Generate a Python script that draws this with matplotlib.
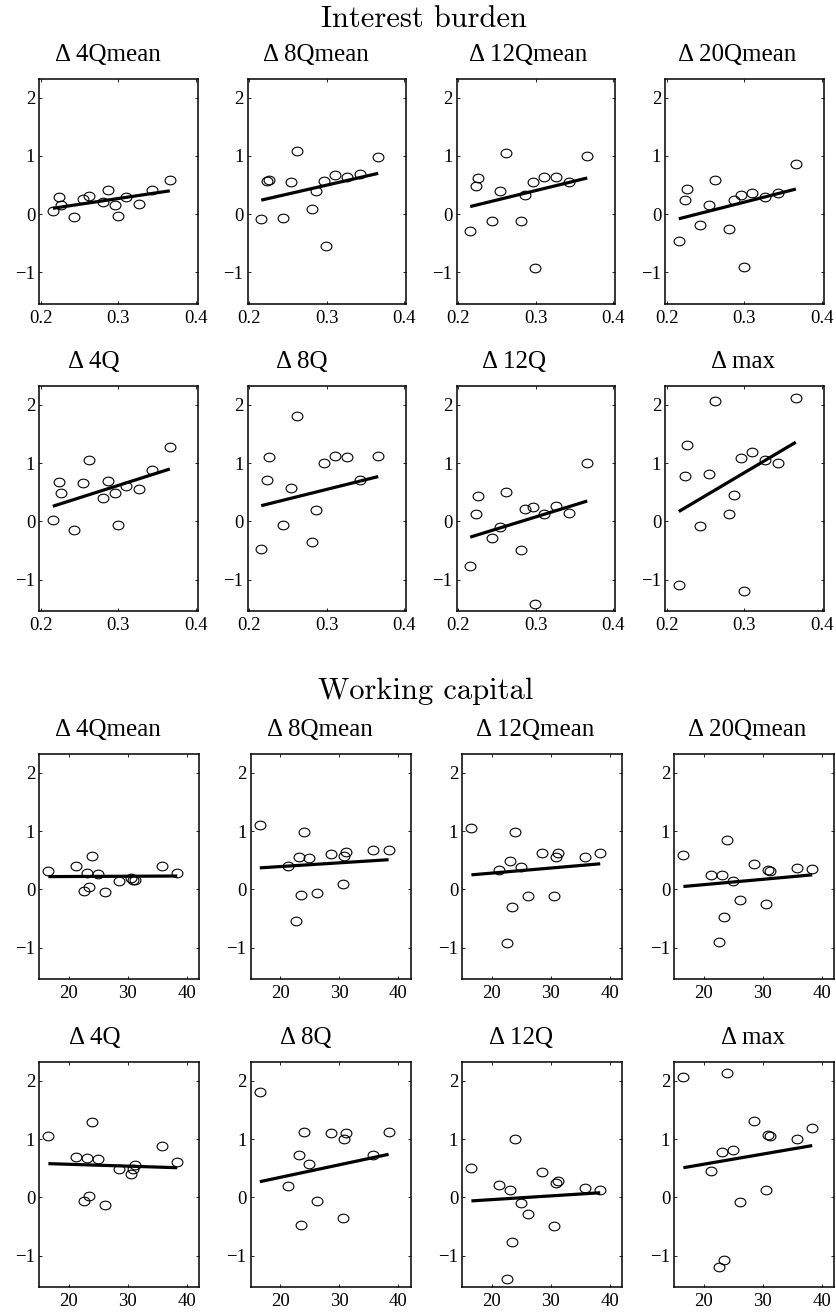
import numpy as np
import matplotlib
matplotlib.use("Agg")
import matplotlib.pyplot as plt
from matplotlib.path import Path
from matplotlib.transforms import Affine2D

plt.rcParams['font.family'] = ['Liberation Serif', 'DejaVu Serif']
plt.rcParams['axes.unicode_minus'] = True

nan = np.nan

# ---------------- Interest burden ----------------
ib_x = [0.2154, 0.2229, 0.2255, 0.2431, 0.2540, 0.2615, 0.2804,
        0.2862, 0.2958, 0.2989, 0.3103, 0.3266, 0.3429, 0.3662]
ib_4qmean = [0.05, 0.29, 0.16, -0.05, 0.26, 0.31, 0.20, 0.42, 0.16, -0.03, 0.29, 0.17, 0.41, 0.58]
ib_8qmean = [-0.09, 0.56, 0.59, -0.06, 0.55, 1.09, 0.09, 0.40, 0.57, -0.54, 0.68, 0.64, 0.69, 0.98]
ib_12qmean = [-0.29, 0.48, 0.62, -0.11, 0.39, 1.05, -0.11, 0.33, 0.55, -0.92, 0.63, 0.63, 0.55, 0.99]
ib_20qmean = [-0.46, 0.24, 0.43, -0.18, 0.15, 0.59, -0.25, 0.24, 0.33, -0.90, 0.36, 0.30, 0.36, 0.86]
ib_4q = [0.02, 0.67, 0.48, -0.14, 0.66, 1.05, 0.41, 0.69, 0.48, -0.07, 0.60, 0.55, 0.88, 1.28]
ib_8q = [-0.48, 0.71, 1.10, -0.07, 0.57, 1.81, -0.36, 0.20, 1.00, nan, 1.13, 1.10, 0.71, 1.13]
ib_12q = [-0.77, 0.12, 0.44, -0.29, -0.10, 0.50, -0.49, 0.21, 0.24, -1.41, 0.12, 0.27, 0.15, 1.01]
ib_max = [-1.09, 0.78, 1.32, -0.08, 0.81, 2.06, 0.13, 0.45, 1.09, -1.20, 1.20, 1.05, 1.01, 2.12]
# fitted line values at the smallest and largest x
ib_fit_lo = [0.10, 0.24, 0.13, -0.08, 0.26, 0.27, -0.27, 0.17]
ib_fit_hi = [0.40, 0.70, 0.62, 0.43, 0.90, 0.77, 0.35, 1.36]

# ---------------- Working capital ----------------
wc_x = [16.54, 21.25, 22.6, 23.1, 23.5, 24.0, 24.9,
        26.2, 28.55, 30.6, 30.8, 31.2, 35.75, 38.36]
wc_4qmean = [0.31, 0.41, -0.02, 0.29, 0.05, 0.58, 0.26, -0.05, 0.15, 0.20, 0.155, 0.17, 0.41, 0.28]
wc_8qmean = [1.10, 0.40, -0.54, 0.56, -0.09, 0.98, 0.54, -0.06, 0.60, 0.09, 0.57, 0.64, 0.68, 0.68]
wc_12qmean = [1.05, 0.33, -0.92, 0.48, -0.30, 0.98, 0.39, -0.11, 0.62, -0.12, 0.55, 0.62, 0.55, 0.62]
wc_20qmean = [0.59, 0.24, -0.90, 0.24, -0.47, 0.85, 0.14, -0.19, 0.43, -0.25, 0.33, 0.31, 0.36, 0.35]
wc_4q = [1.05, 0.70, -0.06, 0.67, 0.02, 1.29, 0.66, -0.13, 0.49, 0.41, 0.49, 0.56, 0.88, 0.60]
wc_8q = [1.81, 0.20, nan, 0.72, -0.48, 1.13, 0.57, -0.07, 1.10, -0.36, 1.00, 1.10, 0.72, 1.13]
wc_12q = [0.51, 0.22, -1.40, 0.12, -0.76, 1.01, -0.09, -0.28, 0.44, -0.49, 0.24, 0.28, 0.16, 0.12]
wc_max = [2.06, 0.46, -1.20, 0.78, -1.08, 2.13, 0.81, -0.08, 1.32, 0.13, 1.08, 1.06, 1.01, 1.20]
wc_fit_lo = [0.22, 0.37, 0.25, 0.05, 0.58, 0.27, -0.06, 0.51]
wc_fit_hi = [0.23, 0.51, 0.44, 0.25, 0.51, 0.74, 0.08, 0.89]

panel_titles = ["Δ 4Qmean", "Δ 8Qmean", "Δ 12Qmean", "Δ 20Qmean",
                "Δ 4Q", "Δ 8Q", "Δ 12Q", "Δ max"]
group_titles = ["Interest burden", "Working capital"]
ib_xticks = [0.2, 0.3, 0.4]
wc_xticks = [20, 30, 40]
yticks = [-1, 0, 1, 2]

groups = [
    dict(x=ib_x, ys=[ib_4qmean, ib_8qmean, ib_12qmean, ib_20qmean,
                     ib_4q, ib_8q, ib_12q, ib_max],
         lo=ib_fit_lo, hi=ib_fit_hi, xticks=ib_xticks, xlim=(0.198, 0.402),
         lefts=[39.3, 247.7, 456.7, 665.3], width=158.3,
         tops=[79.0, 386.3], title_y=27.0, title_x=424.0),
    dict(x=wc_x, ys=[wc_4qmean, wc_8qmean, wc_12qmean, wc_20qmean,
                     wc_4q, wc_8q, wc_12q, wc_max],
         lo=wc_fit_lo, hi=wc_fit_hi, xticks=wc_xticks, xlim=(15.0, 42.1),
         lefts=[39.3, 250.7, 462.3, 674.3], width=160.0,
         tops=[754.3, 1062.3], title_y=699.0, title_x=425.7),
]

W, H = 836, 1316
fig = plt.figure(figsize=(W / 100, H / 100), dpi=100)
panel_h = 224.8
# horizontal shift (px) of each panel heading relative to the panel centre
title_dx = [-11, -11, -7.5, -7.5, -25, -25, -21.5, -1]

# slightly wide open ellipse used as the marker
ring = Path.unit_circle().transformed(Affine2D().scale(1.0, 0.8))

for g, gtitle in zip(groups, group_titles):
    fig.text(g['title_x'] / W, 1 - g['title_y'] / H, gtitle,
             family='cmr10', fontsize=22, ha='center', va='baseline')
    x = np.asarray(g['x'])
    for k in range(8):
        r, c = divmod(k, 4)
        left = g['lefts'][c]
        top = g['tops'][r]
        ax = fig.add_axes([left / W, 1 - (top + panel_h) / H,
                           g['width'] / W, panel_h / H])
        y = np.asarray(g['ys'][k], dtype=float)
        ax.plot(x, y, linestyle='none', marker=ring, markersize=7.8,
                markerfacecolor='none', markeredgecolor='black',
                markeredgewidth=0.8)
        xs = [x.min(), x.max()]
        ax.plot(xs, [g['lo'][k], g['hi'][k]], color='black', lw=2.3,
                solid_capstyle='butt')
        ax.set_xlim(*g['xlim'])
        ax.set_ylim(-1.54, 2.32)
        ax.set_xticks(g['xticks'])
        ax.set_yticks(yticks)
        ax.tick_params(direction='in', length=2.5, width=0.6,
                       top=True, right=True, labelsize=13.5, pad=4.5)
        ax.tick_params(axis='y', pad=3)
        for s in ax.spines.values():
            s.set_linewidth(1.1)
        ax.text(0.5 + title_dx[k] / g['width'], 1 + 18.0 / panel_h,
                panel_titles[k], transform=ax.transAxes,
                ha='center', va='baseline', fontsize=18)

fig.savefig("out.png", dpi=100)
